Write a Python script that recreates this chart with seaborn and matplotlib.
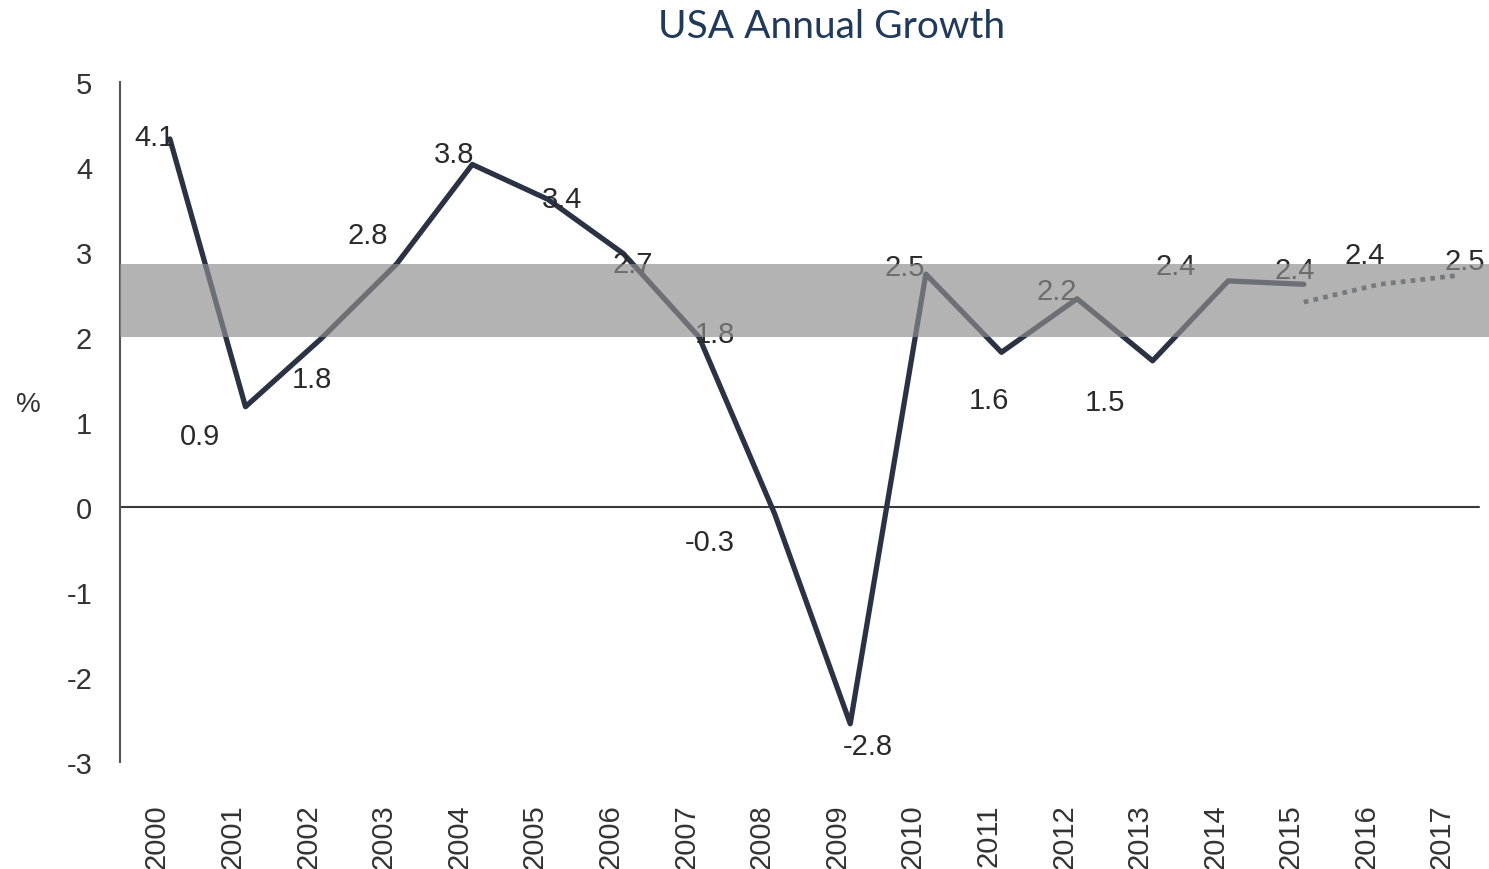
import matplotlib
matplotlib.use("Agg")
import matplotlib.pyplot as plt
import matplotlib.transforms as mtransforms
import pandas as pd
import seaborn as sns

# data
years = ["2000", "2001", "2002", "2003", "2004", "2005", "2006", "2007", "2008",
         "2009", "2010", "2011", "2012", "2013", "2014", "2015", "2016", "2017"]
# drawn line (solid part, 2000-2015)
actual = [4.33, 1.18, 1.98, 2.86, 4.03, 3.62, 2.98, 2.0, -0.08,
          -2.55, 2.74, 1.82, 2.45, 1.72, 2.66, 2.62]
# forecast (dotted part, 2015-2017)
forecast_years = ["2015", "2016", "2017"]
forecast = [2.41, 2.62, 2.72]
# printed value labels
labels = ["4.1", "0.9", "1.8", "2.8", "3.8", "3.4", "2.7", "1.8", "-0.3",
          "-2.8", "2.5", "1.6", "2.2", "1.5", "2.4", "2.4", "2.4", "2.5"]
band_low, band_high = 2.0, 2.86

# label offsets from the line points, pixels
label_offsets = [(-15, 2), (-45, -29), (-9, -40), (-29, 29), (-18, 10), (14, 0),
                 (9, -10), (16, 3), (-65, -28), (18, -22), (-21, 7), (-12, -48),
                 (-20, 8), (-48, -41), (-53, 15), (-9, 14), (-15, 29), (10, 15)]

df = pd.DataFrame({"x": range(len(actual)), "growth": actual})
df_fc = pd.DataFrame({"x": [years.index(y) for y in forecast_years], "growth": forecast})

sns.set_style("white")
plt.rcParams["font.family"] = ["Liberation Sans", "DejaVu Sans"]

fig = plt.figure(figsize=(14.89, 8.70), dpi=100)
ax = fig.add_axes([120 / 1489, 107 / 870, 1369 / 1489, 680 / 870])

navy = "#2a3243"
sns.lineplot(data=df, x="x", y="growth", ax=ax, color=navy, lw=3.8, zorder=3)
sns.lineplot(data=df_fc, x="x", y="growth", ax=ax, color="#4a5160", lw=3.4,
             linestyle=(0, (1, 1.1)), zorder=3)

ax.axhline(0, xmax=0.993, color="#3a3a3a", lw=1.5, zorder=2)
ax.axhspan(band_low, band_high, color="#8e8e8e", alpha=0.67, lw=0, zorder=5)

point_y = actual + forecast[1:]
for i, (txt, (dx, dy)) in enumerate(zip(labels, label_offsets)):
    ax.annotate(txt, (i, point_y[i]), xytext=(dx, dy), textcoords="offset pixels",
                ha="center", va="center", fontsize=21, color="#2a2a2a", zorder=4)

ax.set_xlim(-0.66, 17.45)
ax.set_ylim(-3, 5)
ax.set_yticks(range(-3, 6))
ax.set_yticklabels([str(v) for v in range(-3, 6)], fontsize=21, color="#333333")
ax.set_xticks(range(len(years)))
ax.set_xticklabels(years, rotation=90, fontsize=21, color="#333333")
ax.tick_params(axis="y", length=0, pad=20)
ax.tick_params(axis="x", length=0, pad=30)
shift = mtransforms.ScaledTranslation(-13 / 100, 0, fig.dpi_scale_trans)
for lab in ax.get_xticklabels():
    lab.set_transform(lab.get_transform() + shift)

ax.set_xlabel("")
ax.set_ylabel("")
for side in ["top", "right", "bottom"]:
    ax.spines[side].set_visible(False)
ax.spines["left"].set_color("#555555")
ax.spines["left"].set_linewidth(1.5)

fig.text(28 / 1489, 1 - 405 / 870, "%", fontsize=20, color="#333333",
         ha="center", va="center")
fig.text(832 / 1489, 1 - 27 / 870, "USA Annual Growth", fontsize=28,
         family=["Lato", "DejaVu Sans"], color="#213a5c", ha="center", va="center")

fig.savefig("out.png", dpi=100)
